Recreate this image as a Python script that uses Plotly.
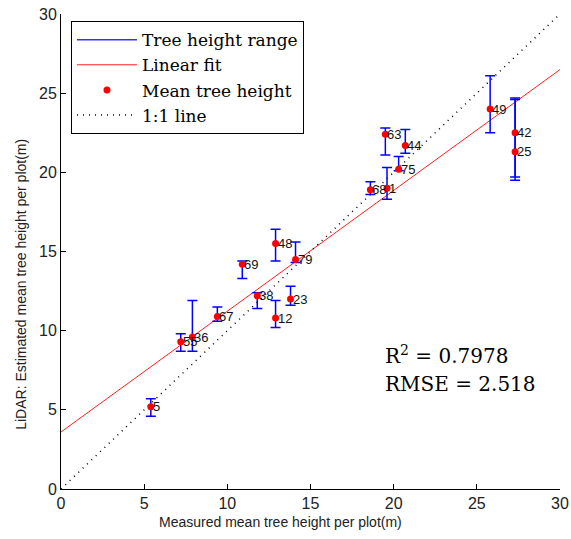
import plotly.graph_objects as go

# Plot IDs and measured / LiDAR-estimated mean tree heights (m)
plot_ids = ["5", "55", "36", "67", "38", "12", "23", "69", "48", "79",
            "68", "1", "75", "63", "44", "49", "42", "25"]
measured = [5.4, 7.2, 7.9, 9.4, 11.8, 12.9, 13.8, 10.9, 12.9, 14.1,
            18.6, 19.6, 20.3, 19.5, 20.7, 25.8, 27.3, 27.3]
estimated = [5.2, 9.3, 9.6, 10.9, 12.2, 10.8, 12.0, 14.2, 15.5, 14.5,
             18.9, 19.0, 20.2, 22.4, 21.7, 24.0, 22.5, 21.3]
# Range of estimated tree heights within each plot
range_low = [4.6, 8.7, 8.7, 10.6, 11.4, 10.2, 11.6, 13.3, 14.4, 14.3,
             18.6, 18.3, 20.1, 21.1, 21.2, 22.5, 19.7, 19.5]
range_high = [5.7, 9.8, 11.9, 11.5, 12.4, 11.9, 12.8, 14.4, 16.4, 15.6,
              19.4, 20.3, 21.0, 22.8, 22.7, 26.1, 24.7, 24.6]

# Linear fit coefficients and the 1:1 reference
fit_intercept = 3.6
fit_slope = 0.763
axis_min, axis_max = 0, 30
r_squared = "0.7978"
rmse = "2.518"

fit_x = [axis_min, axis_max]
fit_y = [fit_intercept + fit_slope * v for v in fit_x]
one_x = [axis_min, axis_max]
one_y = [axis_min, axis_max]

err_plus = [h - e for h, e in zip(range_high, estimated)]
err_minus = [e - l for e, l in zip(estimated, range_low)]

fig = go.Figure()

# Legend-only entry for the blue range bars
fig.add_trace(go.Scatter(
    x=[None], y=[None], mode="lines", name="Tree height range",
    line=dict(color="#3333ff", width=1.5), legendrank=1))

fig.add_trace(go.Scatter(
    x=fit_x, y=fit_y, mode="lines", name="Linear fit",
    line=dict(color="#ff2020", width=1), legendrank=2))

fig.add_trace(go.Scatter(
    x=one_x, y=one_y, mode="lines", name="1:1 line",
    line=dict(color="black", width=1.5, dash="1px,5px"), legendrank=4))

fig.add_trace(go.Scatter(
    x=measured, y=estimated, mode="markers", name="Mean tree height",
    marker=dict(color="#ff0000", size=7, symbol="circle"),
    error_y=dict(type="data", symmetric=False, array=err_plus,
                 arrayminus=err_minus, color="#0000ff", thickness=1.5,
                 width=5),
    legendrank=3))

# Plot ID labels beside each point
for pid, mx, ey in zip(plot_ids, measured, estimated):
    fig.add_annotation(x=mx, y=ey, text=pid, showarrow=False,
                       xanchor="left", yanchor="middle", xshift=0,
                       font=dict(family="Liberation Sans", size=13,
                                 color="#111"))

# Fit statistics
fig.add_annotation(xref="paper", yref="paper", x=0.645, y=0.282,
                   text=f"R<sup>2</sup> = {r_squared}", showarrow=False,
                   xanchor="left", yanchor="middle",
                   font=dict(family="DejaVu Serif", size=20, color="black"))
fig.add_annotation(xref="paper", yref="paper", x=0.645, y=0.222,
                   text=f"RMSE = {rmse}", showarrow=False,
                   xanchor="left", yanchor="middle",
                   font=dict(family="DejaVu Serif", size=20, color="black"))

# Axis titles
fig.add_annotation(xref="paper", yref="paper", x=0.439, y=-0.069,
                   text="Measured mean tree height per plot(m)",
                   showarrow=False, xanchor="center", yanchor="middle",
                   font=dict(family="Liberation Sans", size=14, color="#222"))
fig.add_annotation(xref="paper", yref="paper", x=-0.08, y=0.43,
                   text="LiDAR: Estimated mean tree height per plot(m)",
                   showarrow=False, textangle=-90,
                   xanchor="center", yanchor="middle",
                   font=dict(family="Liberation Sans", size=14, color="#222"))

axis_common = dict(
    range=[axis_min, axis_max], dtick=5, showgrid=False, zeroline=False,
    showline=True, linecolor="black", linewidth=1, ticks="inside",
    ticklen=5, tickcolor="black", automargin=False,
    tickfont=dict(family="Liberation Sans", size=16, color="#222"),
)

fig.update_layout(
    width=571, height=539,
    margin=dict(l=61, r=11, t=14, b=50, autoexpand=False),
    paper_bgcolor="white", plot_bgcolor="white",
    xaxis=dict(**axis_common),
    yaxis=dict(**axis_common),
    showlegend=True,
    legend=dict(x=0.02, y=0.985, xanchor="left", yanchor="top",
                bgcolor="white", bordercolor="black", borderwidth=1,
                itemwidth=60,
                font=dict(family="DejaVu Serif", size=17, color="black"),
                traceorder="normal"),
)

fig.write_html("out.html")
